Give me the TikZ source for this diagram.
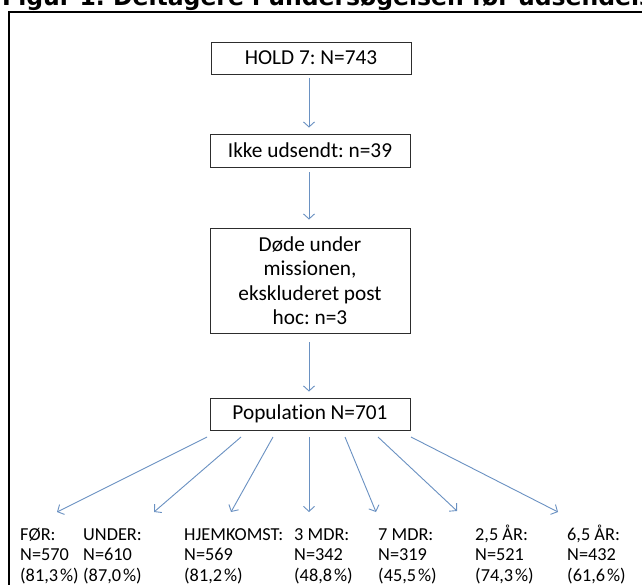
\documentclass[tikz,border=0pt]{standalone}
\usepackage{fontspec}
\setmainfont{Carlito}[Ligatures=NoCommon]
\newfontfamily\titlefont{DejaVu Sans}
\usetikzlibrary{arrows.meta}
\definecolor{arrowblue}{RGB}{106,145,194}
\definecolor{boxline}{RGB}{45,45,45}
\newcommand{\firstln}{\rule{0pt}{16pt}}
\newcommand{\pc}{\kern2pt\%}
\begin{document}
\frenchspacing
\begin{tikzpicture}[x=1pt,y=-1pt,
  box/.style={draw=boxline,line width=0.9pt,minimum width=200pt,align=center,inner sep=0pt,font=\fontsize{21.3}{24.5}\selectfont},
  flow/.style={draw=arrowblue,line width=0.9pt,-{Straight Barb[length=5pt,width=11pt]}},
  lab/.style={anchor=north west,align=left,inner sep=0pt,font=\fontsize{18.3}{20.7}\selectfont}]
\useasboundingbox (0,0) rectangle (642,585);
\clip (0,0) rectangle (642,585);
\fill[white] (0,0) rectangle (642,585);
\node[anchor=base west,inner sep=0pt,font=\titlefont\bfseries\fontsize{23.5}{24}\selectfont] (title) at (2,6) {Figur 1. Deltagere i undersøgelsen før udsendelse};
\draw[line width=2pt] (9,12) rectangle (700,650);
% boxes
\node[box,minimum height=32pt] (hold) at (311,58) {HOLD 7: N=743};
\node[box,minimum height=33pt] (ikke) at (310,150.5) {Ikke udsendt: n=39};
\node[box,minimum height=105pt] (dode) at (310,280.5) {Døde under\\missionen,\\ekskluderet post\\hoc: n=3};
\node[box,minimum height=32pt] (pop) at (310,414) {Population N=701};
% vertical arrows
\draw[flow,shorten <=4pt,shorten >=6pt] (hold.south -| 309,0) -- (ikke.north -| 309,0);
\draw[flow,shorten <=5pt,shorten >=8pt] (ikke.south -| 309,0) -- (dode.north -| 309,0);
\draw[flow,shorten <=9pt,shorten >=6pt] (dode.south -| 309,0) -- (pop.north -| 309,0);
% labels
\node[lab] (c1) at (20,524) {\firstln FØR:\\N=570\\(81,3\pc)};
\node[lab] (c2) at (83,524) {\firstln UNDER:\\N=610\\(87,0\pc)};
\node[lab] (c3) at (184,524) {\firstln HJEMKOMST:\\N=569\\(81,2\pc)};
\node[lab] (c4) at (294,524) {\firstln 3 MDR:\\N=342\\(48,8\pc)};
\node[lab] (c5) at (378,524) {\firstln 7 MDR:\\N=319\\(45,5\pc)};
\node[lab] (c6) at (475,524) {\firstln 2,5 ÅR:\\N=521\\(74,3\pc)};
\node[lab] (c7) at (567,524) {\firstln 6,5 ÅR:\\N=432\\(61,6\pc)};
% fan arrows
\coordinate (s1) at (207,437); \coordinate (t1) at (57,512);
\coordinate (s2) at (241,437); \coordinate (t2) at (154,512);
\coordinate (s3) at (273,437); \coordinate (t3) at (231,512);
\coordinate (s4) at (309,437); \coordinate (t4) at (309,512);
\coordinate (s5) at (345,437); \coordinate (t5) at (376,512);
\coordinate (s6) at (378,437); \coordinate (t6) at (457,511);
\coordinate (s7) at (411,437); \coordinate (t7) at (558,512);
\foreach \i in {1,...,7} {\draw[flow] (s\i) -- (t\i);}
\end{tikzpicture}
\end{document}
